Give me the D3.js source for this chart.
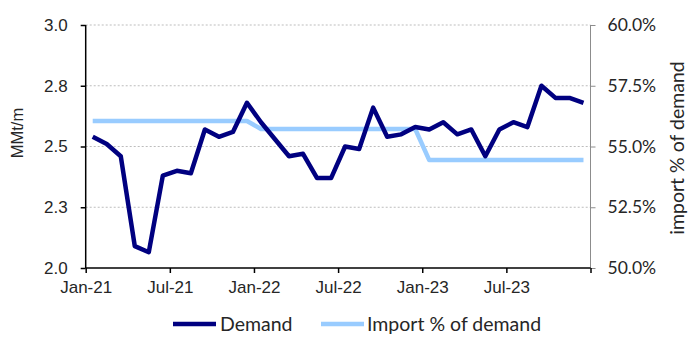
<!DOCTYPE html>
<html><head><meta charset="utf-8">
<script src="https://cdn.jsdelivr.net/npm/d3@7"></script>
<style>body{margin:0;background:#fff}svg{display:block}</style>
</head><body><svg id="c" width="700" height="357"></svg>
<script>
const months = ["Jan-21","Feb-21","Mar-21","Apr-21","May-21","Jun-21","Jul-21","Aug-21","Sep-21","Oct-21","Nov-21","Dec-21",
"Jan-22","Feb-22","Mar-22","Apr-22","May-22","Jun-22","Jul-22","Aug-22","Sep-22","Oct-22","Nov-22","Dec-22",
"Jan-23","Feb-23","Mar-23","Apr-23","May-23","Jun-23","Jul-23","Aug-23","Sep-23","Oct-23","Nov-23","Dec-23"];
const demand = [2.54,2.51,2.46,2.09,2.065,2.38,2.40,2.39,2.57,2.54,2.56,2.68,
2.60,2.53,2.46,2.47,2.37,2.37,2.50,2.49,2.66,2.54,2.55,2.58,
2.57,2.60,2.55,2.57,2.46,2.57,2.60,2.58,2.75,2.70,2.70,2.68];
const importPct = [0.5605,0.5605,0.5605,0.5605,0.5605,0.5605,0.5605,0.5605,0.5605,0.5605,0.5605,0.5605,
0.5572,0.5572,0.5572,0.5572,0.5572,0.5572,0.5572,0.5572,0.5572,0.5572,0.5572,0.5572,
0.5444,0.5444,0.5444,0.5444,0.5444,0.5444,0.5444,0.5444,0.5444,0.5444,0.5444,0.5444];
const xTickLabels = ["Jan-21","Jul-21","Jan-22","Jul-22","Jan-23","Jul-23",""];
const leftTicks = [2.0,2.25,2.5,2.75,3.0];
const rightTicks = [0.5,0.525,0.55,0.575,0.6];
const seriesNames = ["Demand","Import % of demand"];
const colors = ["#000080","#99CCFF"];

const svg = d3.select("#c");
const X0 = 85.7, X1 = 590.5, Y0 = 268, Y1 = 25;
const x = d3.scaleLinear().domain([0, months.length]).range([X0, X1]);
const y = d3.scaleLinear().domain([2, 3]).range([Y0, Y1]);
const y2 = d3.scaleLinear().domain([0.5, 0.6]).range([Y0, Y1]);
const txt = "#262626";
const sans = "'Liberation Sans', Arial, sans-serif";
const cal = "Lato, 'Open Sans', sans-serif";

// gridlines
svg.append("g").selectAll("line").data(leftTicks.slice(1)).join("line")
  .attr("x1", X0).attr("x2", X1).attr("y1", d => y(d)).attr("y2", d => y(d))
  .attr("stroke", "#bdbdbd").attr("stroke-width", 1).attr("stroke-dasharray", "2,2");

// right axis
const ra = svg.append("g").attr("transform", `translate(${X1},0)`)
  .call(d3.axisRight(y2).tickValues(rightTicks).tickFormat(d3.format(".1%")).tickSize(5).tickPadding(12));
ra.select(".domain").attr("stroke", "#8c8c8c").attr("d", `M0,${Y1}V${Y0}`);
ra.selectAll(".tick line").attr("stroke", "#8c8c8c");
ra.selectAll(".tick text").attr("font-family", cal).attr("font-size", 17.5).attr("fill", txt);

// left axis
const la = svg.append("g").attr("transform", `translate(${X0},0)`)
  .call(d3.axisLeft(y).tickValues(leftTicks).tickFormat(d3.format(".1f")).tickSize(5).tickPadding(13));
la.select(".domain").attr("stroke", "#000").attr("stroke-width", 1.5).attr("d", `M0,${Y1}V${Y0}`);
la.selectAll(".tick line").attr("stroke", "#000").attr("stroke-width", 1.5);
la.selectAll(".tick text").attr("font-family", sans).attr("font-size", 17).attr("fill", txt);

// bottom axis
const xt = d3.range(0, months.length + 1, 6);
const ba = svg.append("g").attr("transform", `translate(0,${Y0})`)
  .call(d3.axisBottom(x).tickValues(xt).tickFormat((d, i) => xTickLabels[i]).tickSize(5).tickPadding(8));
ba.select(".domain").attr("stroke", "#000").attr("stroke-width", 1.5).attr("d", `M${X0},0H${X1}`);
ba.selectAll(".tick line").attr("stroke", "#000").attr("stroke-width", 1.5);
ba.selectAll(".tick text").attr("font-family", sans).attr("font-size", 17).attr("fill", txt);

// lines
const lineL = d3.line().x((d, i) => x(i + 0.5)).y(d => y(d));
const lineR = d3.line().x((d, i) => x(i + 0.5)).y(d => y2(d));
svg.append("path").datum(importPct).attr("d", lineR).attr("fill", "none")
  .attr("stroke", colors[1]).attr("stroke-width", 4.5).attr("stroke-linejoin", "round");
svg.append("path").datum(demand).attr("d", lineL).attr("fill", "none")
  .attr("stroke", colors[0]).attr("stroke-width", 4.5).attr("stroke-linejoin", "round");

// axis titles
svg.append("text").attr("transform", "translate(23,133) rotate(-90)").attr("text-anchor", "middle")
  .attr("font-family", sans).attr("font-size", 16.5).attr("fill", txt).text("MMt/m");
svg.append("text").attr("transform", "translate(684,148) rotate(-90)").attr("text-anchor", "middle")
  .attr("font-family", cal).attr("font-size", 19.5).attr("fill", txt).text("import % of demand");

// legend
const leg = [{x: 173, tx: 220}, {x: 321, tx: 367}];
leg.forEach((l, i) => {
  svg.append("line").attr("x1", l.x).attr("x2", l.x + 43).attr("y1", 324).attr("y2", 324)
    .attr("stroke", colors[i]).attr("stroke-width", 4.5);
  svg.append("text").attr("x", l.tx).attr("y", 331).attr("font-family", cal).attr("font-size", 19.5)
    .attr("fill", txt).text(seriesNames[i]);
});
</script></body></html>
